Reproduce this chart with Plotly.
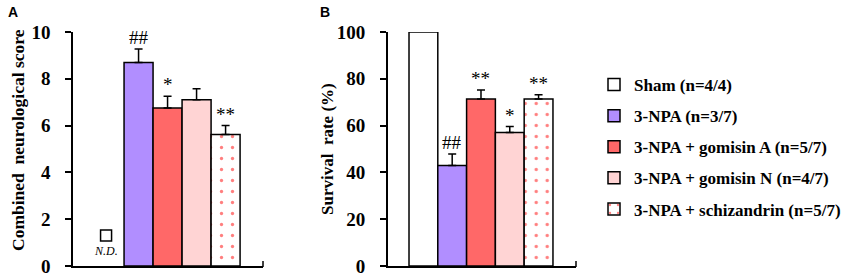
import plotly.graph_objects as go

W, H = 843, 276

groups = ["Sham (n=4/4)", "3-NPA (n=3/7)", "3-NPA + gomisin A (n=5/7)",
          "3-NPA + gomisin N (n=4/7)", "3-NPA + schizandrin (n=5/7)"]
fills = ["#FFFFFF", "#B18EFF", "#FF6868", "#FFD4D4", "#FFFFFF"]

# Panel A: combined neurological score (Sham not determined)
score_vals = [None, 8.7, 6.75, 7.1, 5.62]
score_err = [None, 0.57, 0.5, 0.48, 0.38]
score_sig = ["", "##", "*", "", "**"]

# Panel B: survival rate (%)
surv_vals = [100, 42.9, 71.4, 57.1, 71.4]
surv_err = [0, 5.0, 3.8, 2.5, 1.8]
surv_sig = ["", "##", "**", "*", "**"]

SERIF = "Liberation Serif, Times New Roman, serif"
SANS = "Liberation Sans, Arial, sans-serif"

def px_x(p):
    return p / W

def px_y(p):
    return (H - p) / H

fig = go.Figure()

for i, g in enumerate(groups):
    pattern = dict(shape=".", fgcolor="#FF0000", bgcolor="#FFFFFF", size=11, solidity=0.07) if i == 4 else dict(shape="")
    # Panel A
    if score_vals[i] is not None:
        fig.add_trace(go.Bar(
            x=[i], y=[score_vals[i]], width=1, xaxis="x", yaxis="y",
            marker=dict(color=fills[i], line=dict(color="black", width=1.5), pattern=pattern),
            error_y=dict(type="data", array=[score_err[i]], arrayminus=[0], symmetric=False,
                         color="black", thickness=1.5, width=4),
            showlegend=False, legendgroup=g, hoverinfo="skip"))
    # Panel B
    fig.add_trace(go.Bar(
        x=[i], y=[surv_vals[i]], width=1, xaxis="x2", yaxis="y2", name=g,
        marker=dict(color=fills[i], line=dict(color="black", width=1.5), pattern=pattern),
        error_y=dict(type="data", array=[surv_err[i]], arrayminus=[0], symmetric=False,
                     color="black", thickness=1.5, width=4, visible=surv_err[i] > 0),
        showlegend=True, legendgroup=g, hoverinfo="skip"))

# N.D. marker for Sham in panel A
fig.add_trace(go.Scatter(x=[-0.12], y=[1.3], mode="markers", xaxis="x", yaxis="y",
                         marker=dict(symbol="square-open", size=11, color="black", line=dict(width=1.5)),
                         showlegend=False, hoverinfo="skip"))

annotations = []
for i, s in enumerate(score_sig):
    if s:
        annotations.append(dict(x=i, y=score_vals[i] + score_err[i], xref="x", yref="y", text=s,
                                showarrow=False, yanchor="bottom", yshift=-1,
                                font=dict(family=SERIF, size=19, color="black")))
for i, s in enumerate(surv_sig):
    if s:
        annotations.append(dict(x=i, y=surv_vals[i] + surv_err[i], xref="x2", yref="y2", text=s,
                                showarrow=False, yanchor="bottom", yshift=-1,
                                font=dict(family=SERIF, size=19, color="black")))
annotations.append(dict(x=-0.12, y=0, xref="x", yref="y", text="<i>N.D.</i>", showarrow=False,
                        yanchor="bottom", yshift=6, font=dict(family=SERIF, size=12, color="black")))
annotations += [
    dict(x=px_x(6), y=px_y(12), xref="paper", yref="paper", text="<b>A</b>", showarrow=False,
         xanchor="left", yanchor="middle", font=dict(family=SANS, size=14, color="black")),
    dict(x=px_x(318), y=px_y(12), xref="paper", yref="paper", text="<b>B</b>", showarrow=False,
         xanchor="left", yanchor="middle", font=dict(family=SANS, size=14, color="black")),
    dict(x=px_x(18), y=px_y(140), xref="paper", yref="paper", text="<b>Combined  neurological score</b>",
         showarrow=False, textangle=-90, xanchor="center", yanchor="middle",
         font=dict(family=SERIF, size=17.5, color="black")),
    dict(x=px_x(327), y=px_y(149), xref="paper", yref="paper", text="<b>Survival  rate (%)</b>",
         showarrow=False, textangle=-90, xanchor="center", yanchor="middle",
         font=dict(family=SERIF, size=17, color="black")),
]

ydom = [px_y(266), px_y(32)]
axis_common = dict(showline=True, linecolor="black", linewidth=1.5, showgrid=False, zeroline=False,
                   automargin=False)

fig.update_layout(
    width=W, height=H, autosize=False,
    margin=dict(l=0, r=0, t=0, b=0, autoexpand=False),
    paper_bgcolor="white", plot_bgcolor="rgba(0,0,0,0)",
    barmode="overlay",
    xaxis=dict(domain=[px_x(73), px_x(263)], range=[-1.26, 5.29], showticklabels=False, ticks="",
               anchor="y", **axis_common),
    yaxis=dict(domain=ydom, range=[0, 10], dtick=2, ticks="outside", ticklen=6, tickwidth=1.5,
               tickcolor="black", ticklabelstandoff=11, anchor="x", ticklabeloverflow="allow",
               tickfont=dict(family=SERIF, size=19, color="black", weight="bold"), **axis_common),
    xaxis2=dict(domain=[px_x(387.7), px_x(576)], range=[-1.24, 5.3], showticklabels=False, ticks="",
                anchor="y2", **axis_common),
    yaxis2=dict(domain=ydom, range=[0, 100], dtick=20, ticks="outside", ticklen=6, tickwidth=1.5,
                tickcolor="black", ticklabelstandoff=11, anchor="x2", ticklabeloverflow="allow",
                tickfont=dict(family=SERIF, size=19, color="black", weight="bold"), **axis_common),
    legend=dict(x=px_x(594), y=px_y(67), xanchor="left", yanchor="top", tracegroupgap=6,
                xref="container", yref="container", maxheight=260,
                font=dict(family=SERIF, size=17, color="black", weight="bold"),
                bgcolor="rgba(0,0,0,0)", itemclick=False, itemdoubleclick=False),
    annotations=annotations,
    shapes=[
        dict(type="line", xref="paper", yref="paper", x0=px_x(263), x1=px_x(263), y0=px_y(261), y1=px_y(267),
             line=dict(color="black", width=1.5)),
        dict(type="line", xref="paper", yref="paper", x0=px_x(576), x1=px_x(576), y0=px_y(261), y1=px_y(267),
             line=dict(color="black", width=1.5)),
    ],
)

fig.write_html("out.html", config={"displayModeBar": False},
               post_script="document.body.style.margin='0';document.body.style.overflow='hidden';")
